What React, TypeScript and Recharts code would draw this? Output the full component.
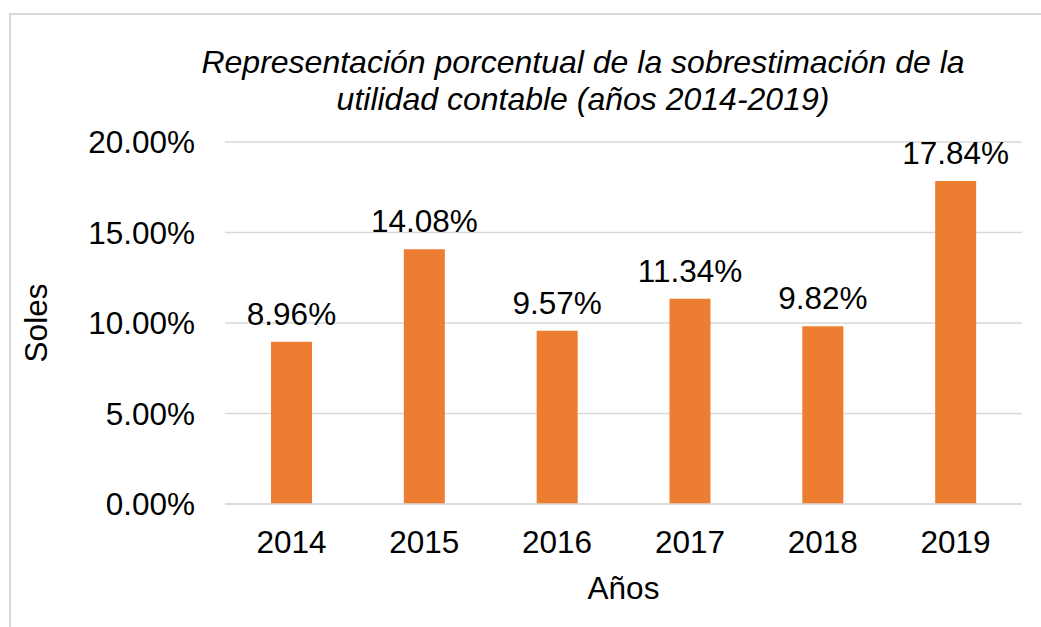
import React from 'react';
import { BarChart, Bar, XAxis, YAxis, CartesianGrid, LabelList } from 'recharts';

const years = ['2014', '2015', '2016', '2017', '2018', '2019'];
const values = [8.96, 14.08, 9.57, 11.34, 9.82, 17.84];
const yTicks = [0, 5, 10, 15, 20];
const titleLines = [
  'Representación porcentual de la sobrestimación de la',
  'utilidad contable (años 2014-2019)',
];

const data = years.map((y, i) => ({ year: y, value: values[i] }));

const FONT = '"Liberation Sans", Arial, sans-serif';
const FS = 31.5;
const fmt = (v: number) => `${Number(v).toFixed(2)}%`;

export default function App() {
  return (
    <div
      style={{
        position: 'absolute',
        left: 0,
        top: 0,
        width: 1041,
        height: 627,
        overflow: 'hidden',
        background: '#fff',
        fontFamily: FONT,
      }}
    >
      <div
        style={{
          position: 'absolute',
          left: 9,
          top: 13,
          width: 1100,
          height: 700,
          border: '2px solid #D9D9D9',
        }}
      />
      <div
        style={{
          position: 'absolute',
          left: 83,
          width: 1000,
          top: 44,
          textAlign: 'center',
          fontStyle: 'italic',
          fontSize: 32,
          lineHeight: '37px',
          color: '#000',
          whiteSpace: 'nowrap',
        }}
      >
        <div>{titleLines[0]}</div>
        <div>{titleLines[1]}</div>
      </div>
      <div style={{ position: 'absolute', left: 0, top: 0 }}>
        <BarChart
          width={1041}
          height={627}
          data={data}
          margin={{ top: 142, right: 19, bottom: 0, left: 0 }}
          barSize={41}
        >
          <CartesianGrid vertical={false} stroke="#D9D9D9" strokeWidth={1.5} />
          <XAxis
            dataKey="year"
            height={123}
            tickLine={false}
            axisLine={{ stroke: '#D9D9D9', strokeWidth: 1.5 }}
            tick={{ fill: '#000', fontSize: FS, fontFamily: FONT }}
            tickMargin={21}
            label={{
              value: 'Años',
              position: 'insideBottom',
              offset: 28,
              style: { fill: '#000', fontSize: FS, fontFamily: FONT },
            }}
          />
          <YAxis
            width={225}
            domain={[0, 20]}
            ticks={yTicks}
            tickFormatter={fmt}
            tickLine={false}
            axisLine={false}
            tick={{ fill: '#000', fontSize: FS, fontFamily: FONT }}
            tickMargin={24}
            label={{
              value: 'Soles',
              angle: -90,
              position: 'center',
              dx: -77,
              style: { fill: '#000', fontSize: FS, fontFamily: FONT, textAnchor: 'middle' },
            }}
          />
          <Bar dataKey="value" fill="#ED7D31" isAnimationActive={false}>
            <LabelList
              dataKey="value"
              position="top"
              offset={17}
              formatter={fmt}
              style={{ fill: '#000', fontSize: FS, fontFamily: FONT }}
            />
          </Bar>
        </BarChart>
      </div>
    </div>
  );
}
